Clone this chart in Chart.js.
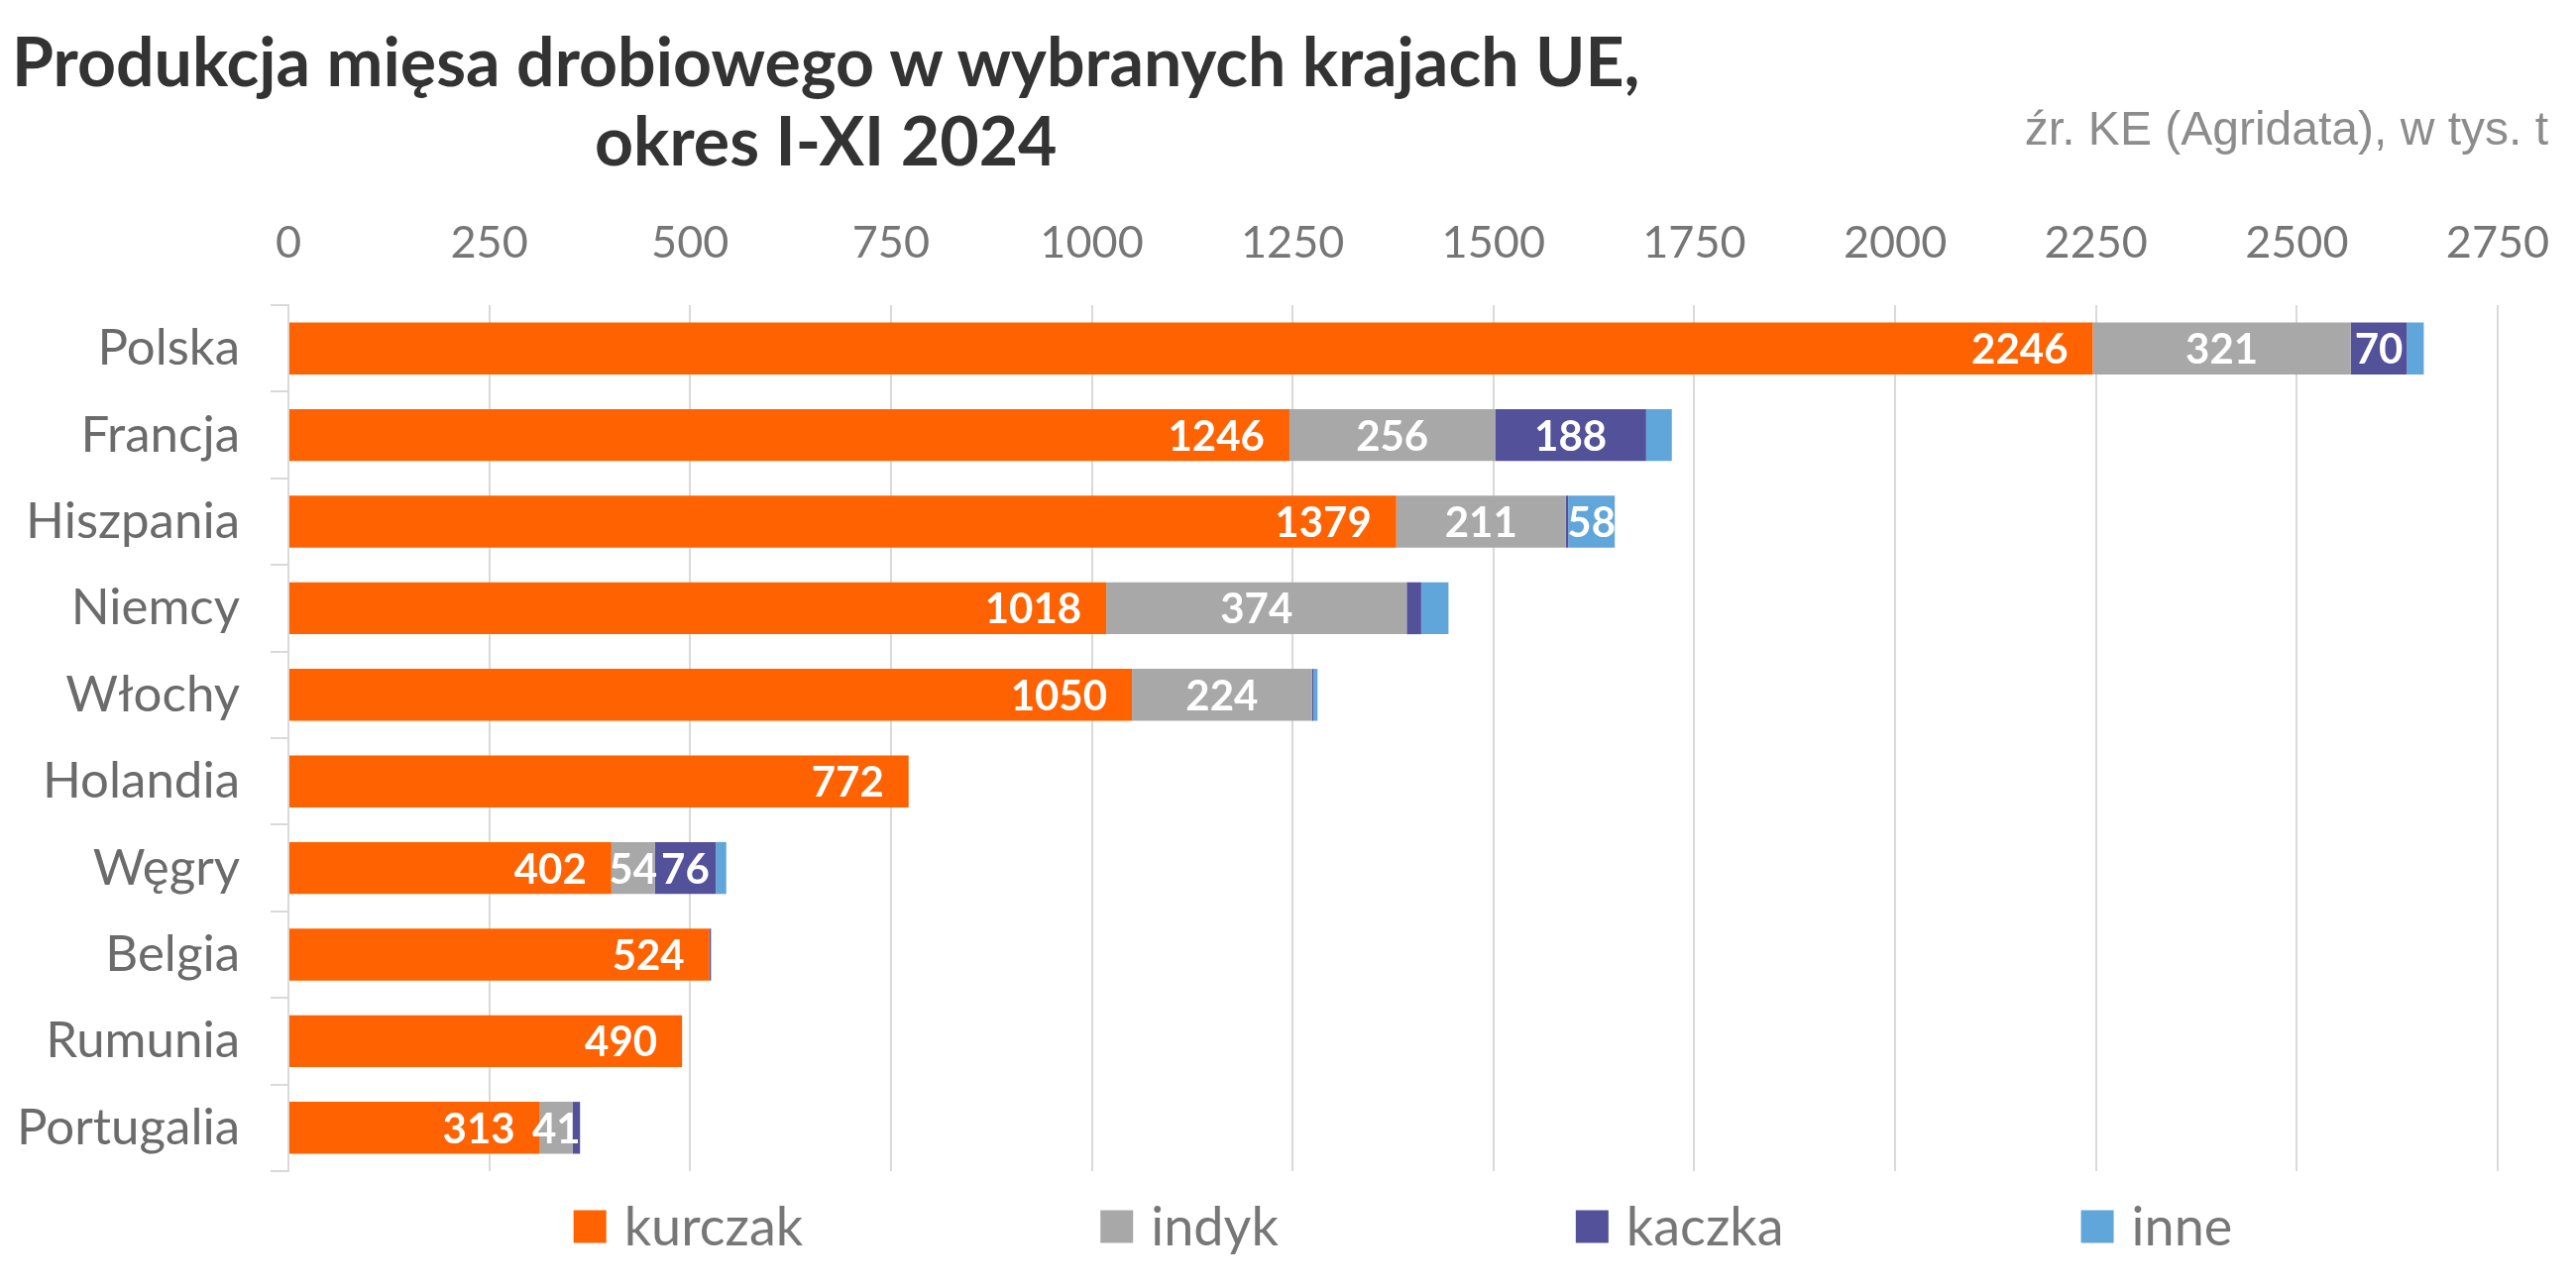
<!DOCTYPE html>
<html><head><meta charset="utf-8">
<script src="https://cdn.jsdelivr.net/npm/chart.js@4.4.1/dist/chart.umd.min.js"></script>
<style>
html,body{margin:0;padding:0;background:#fff;overflow:hidden;}
#wrap{position:relative;width:2599px;height:1300px;overflow:hidden;}
#title{position:absolute;left:12px;top:21px;display:inline-block;text-align:center;font-family:Lato,sans-serif;font-weight:700;font-size:68px;line-height:80px;color:#333333;white-space:nowrap;}
#src{position:absolute;right:28px;top:106px;font-family:"Liberation Sans",Arial,sans-serif;font-size:48px;line-height:1;color:#8c8c8c;white-space:nowrap;}
canvas{position:absolute;left:0;top:0;}
</style></head><body>
<div id="wrap">
<canvas id="c" width="2599" height="1300"></canvas>
<div id="title">Produkcja mięsa drobiowego w wybranych krajach UE,<br>okres I-XI 2024</div>
<div id="src">źr. KE (Agridata), w tys. t</div>
</div>
<script>
const categories = ['Polska','Francja','Hiszpania','Niemcy','Włochy','Holandia','Węgry','Belgia','Rumunia','Portugalia'];
const kurczak = [2246,1246,1379,1018,1050,772,402,524,490,313];
const indyk   = [321,256,211,374,224,0,54,0,0,41];
const kaczka  = [70,188,3,18,2,0,76,2,0,9];
const inne    = [21,32,58,34,5,0,13,0,0,0];
const seriesNames  = ['kurczak','indyk','kaczka','inne'];
const seriesColors = ['#FF6200','#A8A8A8','#525199','#60A6DA'];
const axisMin = 0, axisMax = 2750, axisStep = 250;
const LABEL_MIN = 40;

const seriesValues = [kurczak, indyk, kaczka, inne];

const labelPlugin = {
  id: 'segLabels',
  afterDatasetsDraw(chart) {
    const ctx = chart.ctx;
    ctx.save();
    ctx.fillStyle = '#ffffff';
    ctx.font = 'bold 42px Lato';
    ctx.textBaseline = 'middle';
    chart.data.datasets.forEach((ds, i) => {
      const meta = chart.getDatasetMeta(i);
      meta.data.forEach((el, j) => {
        const v = ds.data[j];
        if (v < LABEL_MIN) return;
        if (i === 0) {
          ctx.textAlign = 'right';
          ctx.fillText(String(v), el.x - 25, el.y + 2);
        } else {
          ctx.textAlign = 'center';
          ctx.fillText(String(v), (el.x + el.base) / 2, el.y + 2);
        }
      });
    });
    ctx.restore();
  }
};

const legendPlugin = {
  id: 'bottomLegend',
  afterDraw(chart) {
    const ctx = chart.ctx;
    const ca = chart.chartArea;
    const box = 33, gap = 18, spacing = 300;
    ctx.save();
    ctx.font = '54px Lato';
    const widths = chart.data.datasets.map(d => box + gap + ctx.measureText(d.label).width);
    const total = widths.reduce((a, b) => a + b, 0) + spacing * (widths.length - 1);
    let x = (ca.left + ca.right) / 2 - total / 2 + 10;
    const cy = ca.bottom + 56;
    chart.data.datasets.forEach((d, i) => {
      ctx.fillStyle = d.backgroundColor;
      ctx.fillRect(x, cy - box / 2, box, box);
      ctx.fillStyle = '#777777';
      ctx.textAlign = 'left';
      ctx.textBaseline = 'alphabetic';
      ctx.fillText(d.label, x + box + gap, cy + 19);
      x += widths[i] + spacing;
    });
    ctx.restore();
  }
};

new Chart(document.getElementById('c'), {
  type: 'bar',
  data: {
    labels: categories,
    datasets: seriesNames.map((n, i) => ({
      label: n,
      data: seriesValues[i],
      backgroundColor: seriesColors[i],
      borderWidth: 0,
      barPercentage: 0.6,
      categoryPercentage: 1.0
    }))
  },
  options: {
    indexAxis: 'y',
    responsive: false,
    devicePixelRatio: 1,
    animation: false,
    layout: { padding: { left: 10, right: 79, top: 200, bottom: 118 } },
    plugins: {
      legend: { display: false },
      title: { display: false },
      tooltip: { enabled: false }
    },
    scales: {
      x: {
        type: 'linear',
        position: 'top',
        stacked: true,
        min: axisMin,
        max: axisMax,
        ticks: { stepSize: axisStep, color: '#767676', font: { family: 'Lato', size: 45 }, padding: 36, maxRotation: 0,
                 callback: v => String(v) },
        grid: { color: '#d9d9d9', lineWidth: 2, drawTicks: false },
        border: { display: false },
        afterFit(s) { s.height = 108; s.paddingRight = 0; s.paddingLeft = 0; }
      },
      y: {
        stacked: true,
        ticks: { color: '#6b6b6b', font: { family: 'Lato', size: 51 }, padding: 31 },
        grid: { drawOnChartArea: false, drawTicks: true, tickLength: 18, color: '#d9d9d9', lineWidth: 2 },
        border: { display: true, color: '#d9d9d9', width: 2 },
        afterFit(s) { s.width = 281; }
      }
    }
  },
  plugins: [labelPlugin, legendPlugin]
});
</script>
</body></html>
